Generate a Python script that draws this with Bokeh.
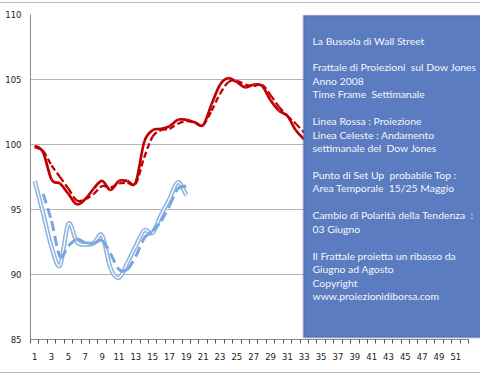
from bokeh.plotting import figure
from bokeh.models import FixedTicker, BoxAnnotation, Label
from bokeh.embed import file_html
from bokeh.resources import INLINE

# ---- data ----
red_weeks = list(range(1, 34))
red_proj = [99.9, 99.4, 97.3, 97.0, 96.2, 95.4, 95.8, 96.6, 97.2, 96.5, 97.2, 97.2, 97.1,
            100.2, 101.1, 101.2, 101.4, 101.9, 101.9, 101.7, 101.5, 103.1, 104.6, 105.1,
            104.8, 104.4, 104.6, 104.5, 103.4, 102.6, 102.2, 101.1, 100.4]
red_proj_avg = [99.8, 99.5, 98.4, 97.5, 96.6, 95.7, 95.8, 96.2, 96.8, 96.7, 97.0, 97.05, 97.0,
                99.0, 100.6, 101.1, 101.2, 101.6, 101.8, 101.7, 101.5, 102.6, 103.9, 104.8,
                104.9, 104.6, 104.5, 104.6, 103.8, 102.9, 102.2, 101.6, 100.9]
blue_weeks = list(range(1, 20))
blue_dow = [97.2, 94.7, 92.1, 90.7, 93.9, 92.5, 92.3, 92.4, 93.0, 90.5, 89.75, 90.9, 92.2,
            93.4, 93.2, 94.6, 95.8, 97.1, 96.1]
blue_avg_weeks = list(range(2, 20))
blue_dow_avg = [96.2, 94.1, 91.4, 92.2, 92.7, 92.45, 92.4, 92.6, 91.6, 90.4, 90.4, 91.4,
                92.8, 93.35, 94.1, 95.3, 96.6, 96.8]

y_ticks = [85, 90, 95, 100, 105, 110]
x_ticks = list(range(1, 52, 2))
n_categories = 52

box_lines = [
    "La Bussola di Wall Street",
    "",
    "Frattale di Proiezioni  sul Dow Jones",
    "Anno 2008",
    "Time Frame  Settimanale",
    "",
    "Linea Rossa : Proiezione",
    "Linea Celeste : Andamento",
    "settimanale del  Dow Jones",
    "",
    "Punto di Set Up  probabile Top :",
    "Area Temporale  15/25 Maggio",
    "",
    "Cambio di Polarità della Tendenza  :",
    "03 Giugno",
    "",
    "Il Frattale proietta un ribasso da",
    "Giugno ad Agosto",
    "Copyright",
    "www.proiezionidiborsa.com",
]


def smooth_segments(xs, ys):
    """Bezier control points for a smoothed line through the data points."""
    n = len(xs)
    out = dict(x0=[], y0=[], x1=[], y1=[], cx0=[], cy0=[], cx1=[], cy1=[])
    for i in range(n - 1):
        a = max(i - 1, 0)
        d = min(i + 2, n - 1)
        out["x0"].append(xs[i]); out["y0"].append(ys[i])
        out["x1"].append(xs[i + 1]); out["y1"].append(ys[i + 1])
        out["cx0"].append(xs[i] + (xs[i + 1] - xs[a]) / 6)
        out["cy0"].append(ys[i] + (ys[i + 1] - ys[a]) / 6)
        out["cx1"].append(xs[i + 1] - (xs[d] - xs[i]) / 6)
        out["cy1"].append(ys[i + 1] - (ys[d] - ys[i]) / 6)
    return out


# plot area: categories span 438 px starting at x=30; frame runs on to the canvas edge
frame_left, cat_span_px, width = 30, 438, 480
x_end = 0.5 + (width - frame_left) * n_categories / cat_span_px

p = figure(width=width, height=377, x_range=(0.5, x_end), y_range=(85, 110),
           output_backend="svg", toolbar_location=None,
           min_border_left=frame_left, min_border_right=0, min_border_top=14,
           min_border_bottom=38)
p.outline_line_color = None
p.background_fill_color = None
p.border_fill_color = None
p.styles = {
    "background": "linear-gradient(#b9b9b9,#b9b9b9) 0 2px/100% 1px no-repeat, "
                  "linear-gradient(#b9b9b9,#b9b9b9) 0 372px/100% 1px no-repeat, #ffffff"
}

# axes
p.xaxis.ticker = FixedTicker(ticks=x_ticks,
                             minor_ticks=[i + 0.5 for i in range(0, n_categories + 1)])
p.xaxis.bounds = (0.5, n_categories + 0.5)
p.yaxis.ticker = FixedTicker(ticks=y_ticks)
for ax in (p.xaxis[0], p.yaxis[0]):
    ax.axis_line_color = "#8c8c8c"
    ax.major_tick_line_color = None
    ax.major_tick_out = 0
    ax.major_tick_in = 0
    ax.major_label_text_font = "DejaVu Sans"
    ax.major_label_text_font_size = "8.5px"
    ax.major_label_text_color = "#222222"
    ax.major_label_standoff = 9
p.xaxis.minor_tick_line_color = "#555555"
p.xaxis.minor_tick_out = 4
p.xaxis.minor_tick_in = 0
p.yaxis.minor_tick_line_color = None
p.xgrid.grid_line_color = None
p.ygrid.grid_line_color = "#b4b4b4"
p.ygrid.grid_line_width = 1

# lines
bs = smooth_segments(blue_weeks, blue_dow)
p.bezier(source=bs, x0="x0", y0="y0", x1="x1", y1="y1", cx0="cx0", cy0="cy0",
         cx1="cx1", cy1="cy1", line_color="#8fb5e3", line_width=4.5)
p.bezier(source=bs, x0="x0", y0="y0", x1="x1", y1="y1", cx0="cx0", cy0="cy0",
         cx1="cx1", cy1="cy1", line_color="white", line_width=1.3)
bd = smooth_segments(blue_avg_weeks, blue_dow_avg)
p.bezier(source=bd, x0="x0", y0="y0", x1="x1", y1="y1", cx0="cx0", cy0="cy0",
         cx1="cx1", cy1="cy1", line_color="#7aa6dc", line_width=3, line_dash="10 5")
rs = smooth_segments(red_weeks, red_proj)
p.bezier(source=rs, x0="x0", y0="y0", x1="x1", y1="y1", cx0="cx0", cy0="cy0",
         cx1="cx1", cy1="cy1", line_color="#c00000", line_width=2.7)
rd = smooth_segments(red_weeks, red_proj_avg)
p.bezier(source=rd, x0="x0", y0="y0", x1="x1", y1="y1", cx0="cx0", cy0="cy0",
         cx1="cx1", cy1="cy1", line_color="#c00000", line_width=2.3, line_dash="6 3")

# text box
p.add_layout(BoxAnnotation(left=303, right=490, top=15, bottom=337,
                           left_units="canvas", right_units="canvas",
                           top_units="canvas", bottom_units="canvas",
                           fill_color="#5b7cc0", fill_alpha=1.0,
                           line_color="#3b5a8c", line_width=2))
for k, t in enumerate(box_lines):
    if t:
        p.add_layout(Label(x=312, y=40 + k * 13.45, x_units="canvas", y_units="canvas",
                           text=t.replace("  ", " \u00a0"), text_font="Lato",
                           text_font_size="10.4px", text_color="#f4f6fb",
                           text_baseline="middle", text_align="left"))

open("out.html", "w").write(file_html(p, INLINE))
